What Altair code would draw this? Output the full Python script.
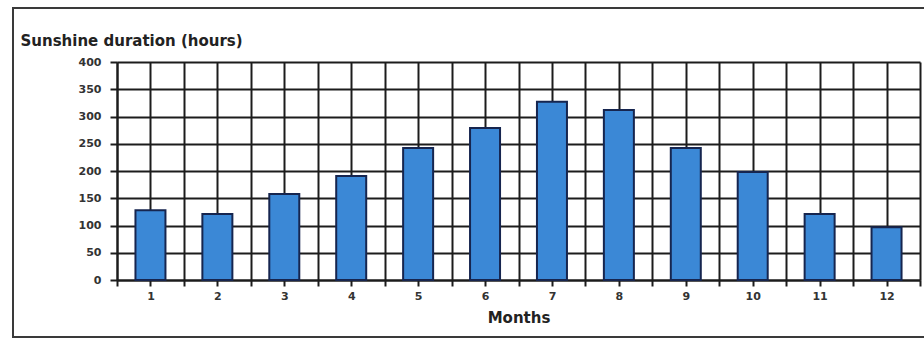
import altair as alt
import pandas as pd

months = [1, 2, 3, 4, 5, 6, 7, 8, 9, 10, 11, 12]
sunshine = [128, 121, 158, 191, 242, 279, 327, 312, 242, 198, 121, 97]
y_ticks = [0, 50, 100, 150, 200, 250, 300, 350, 400]
x_ticks = [i / 2 for i in range(1, 26)]

df = pd.DataFrame({"month": months, "hours": sunshine})

label_font = "DejaVu Sans"
grid_col = "#1c1c1c"

bars = alt.Chart(df).mark_bar(
    size=30, color="#3b88d6", stroke="#16254f", strokeWidth=2
).encode(
    x=alt.X(
        "month:Q",
        scale=alt.Scale(domain=[0.5, 12.5], nice=False, zero=False, padding=0),
        axis=alt.Axis(
            values=x_ticks,
            labelExpr="datum.value % 1 == 0 ? '' + datum.value : ''",
            title="Months",
            titleFont=label_font, titleFontSize=15, titleFontWeight="bold",
            titleColor="#222", titlePadding=9,
            labelFont=label_font, labelFontSize=11, labelFontWeight="bold",
            labelColor="#333", labelPadding=4, labelFlush=False,
            labelOverlap=False,
            tickSize=6, tickColor=grid_col, tickWidth=2,
            grid=True, gridColor=grid_col, gridWidth=2, gridOpacity=1,
            domainColor=grid_col, domainWidth=2,
        ),
    ),
    y=alt.Y(
        "hours:Q",
        scale=alt.Scale(domain=[0, 400], nice=False, padding=0),
        axis=alt.Axis(
            values=y_ticks,
            title="Sunshine duration (hours)",
            titleAngle=0, titleAlign="left", titleBaseline="alphabetic",
            titleX=-97, titleY=-17,
            titleFont=label_font, titleFontSize=15, titleFontWeight="bold",
            titleColor="#222",
            labelFont=label_font, labelFontSize=11, labelFontWeight="bold",
            labelColor="#333", labelPadding=9,
            tickSize=7, tickColor=grid_col, tickWidth=2,
            grid=True, gridColor=grid_col, gridWidth=2, gridOpacity=1,
            domainColor=grid_col, domainWidth=2,
        ),
    ),
)

frame = alt.Chart(df).mark_rect(
    fill=None, stroke="#3a3a3a", strokeWidth=2
).encode(
    x=alt.value(-104), x2=alt.value(812),
    y=alt.value(-54), y2=alt.value(275),
)

chart = alt.layer(bars, frame).properties(
    width=803, height=218,
    autosize=alt.AutoSizeParams(type="none"),
    padding={"left": 117, "top": 62, "right": 4, "bottom": 62},
    background="white",
).configure_view(stroke=None)

chart.save("out.html", embed_options={"renderer": "svg", "actions": False})
